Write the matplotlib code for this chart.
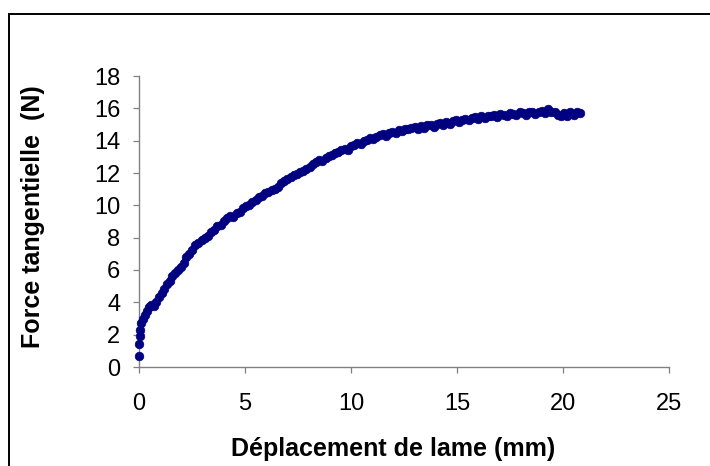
import matplotlib.pyplot as plt
from matplotlib.patches import Rectangle

plt.rcParams['font.family'] = ['Liberation Sans', 'DejaVu Sans']

# blade displacement (mm) and tangential force (N)
deplacement = [
    0.00, 0.02, 0.04, 0.07, 0.10, 0.18, 0.28, 0.38, 0.48, 0.58,
    0.70, 0.82, 0.95, 1.08, 1.20, 1.32, 1.45, 1.58, 1.70, 1.83,
    1.96, 2.10, 2.24, 2.38, 2.52, 2.66, 2.80, 2.95, 3.10, 3.25,
    3.40, 3.55, 3.70, 3.85, 4.00, 4.15, 4.30, 4.45, 4.60, 4.75,
    4.90, 5.05, 5.20, 5.35, 5.50, 5.65, 5.80, 5.95, 6.10, 6.25,
    6.40, 6.55, 6.70, 6.85, 7.00, 7.15, 7.30, 7.45, 7.60, 7.75,
    7.90, 8.05, 8.20, 8.35, 8.50, 8.65, 8.80, 8.95, 9.10, 9.25,
    9.40, 9.55, 9.70, 9.85, 10.00, 10.15, 10.30, 10.45, 10.60, 10.75,
    10.90, 11.05, 11.20, 11.35, 11.50, 11.65, 11.80, 11.95, 12.10, 12.25,
    12.40, 12.55, 12.70, 12.85, 13.00, 13.15, 13.30, 13.45, 13.60, 13.75,
    13.90, 14.05, 14.20, 14.35, 14.50, 14.65, 14.80, 14.95, 15.10, 15.25,
    15.40, 15.55, 15.70, 15.85, 16.00, 16.15, 16.30, 16.45, 16.60, 16.75,
    16.90, 17.05, 17.20, 17.35, 17.50, 17.65, 17.80, 17.95, 18.10, 18.25,
    18.40, 18.55, 18.70, 18.85, 19.00, 19.15, 19.30, 19.45, 19.60, 19.75,
    19.90, 20.05, 20.20, 20.35, 20.50, 20.65, 20.80,
]
force = [
    0.68, 1.45, 1.90, 2.30, 2.70, 3.00, 3.20, 3.45, 3.70, 3.85,
    3.80, 4.05, 4.30, 4.60, 4.85, 5.15, 5.35, 5.65, 5.80, 6.00,
    6.20, 6.45, 6.80, 7.00, 7.25, 7.55, 7.70, 7.85, 8.00, 8.10,
    8.35, 8.50, 8.70, 8.80, 9.05, 9.20, 9.35, 9.30, 9.55, 9.60,
    9.85, 9.95, 10.05, 10.20, 10.30, 10.50, 10.55, 10.75, 10.80, 10.95,
    11.00, 11.15, 11.40, 11.50, 11.65, 11.75, 11.85, 11.95, 12.05, 12.15,
    12.25, 12.40, 12.55, 12.70, 12.80, 12.75, 12.90, 13.05, 13.10, 13.25,
    13.30, 13.40, 13.50, 13.45, 13.65, 13.75, 13.85, 13.80, 13.95, 14.05,
    14.15, 14.10, 14.25, 14.35, 14.40, 14.30, 14.45, 14.55, 14.50, 14.65,
    14.60, 14.75, 14.70, 14.80, 14.85, 14.75, 14.90, 14.80, 14.95, 15.00,
    14.85, 15.05, 15.10, 14.95, 15.15, 15.05, 15.20, 15.25, 15.15, 15.30,
    15.35, 15.25, 15.40, 15.45, 15.35, 15.50, 15.40, 15.55, 15.50, 15.60,
    15.45, 15.65, 15.60, 15.55, 15.70, 15.65, 15.60, 15.75, 15.70, 15.60,
    15.80, 15.75, 15.65, 15.80, 15.85, 15.70, 15.95, 15.75, 15.80, 15.60,
    15.50, 15.70, 15.55, 15.75, 15.60, 15.80, 15.70,
]

x_ticks = [0, 5, 10, 15, 20, 25]
y_ticks = [0, 2, 4, 6, 8, 10, 12, 14, 16, 18]

W, H = 710, 466
fig = plt.figure(figsize=(W / 100, H / 100), dpi=100)
ax = fig.add_axes([139 / W, 1 - 367 / H, 530 / W, 291 / H])

ax.plot(deplacement, force, 'o', color='#000080', markersize=6.2,
        markeredgewidth=0.5, clip_on=False, zorder=3)

ax.set_xlim(0, 25)
ax.set_ylim(0, 18)
ax.set_xticks(x_ticks)
ax.set_yticks(y_ticks)

for side in ('top', 'right'):
    ax.spines[side].set_visible(False)
for side in ('left', 'bottom'):
    ax.spines[side].set_color('#808080')
    ax.spines[side].set_linewidth(1.0)

ax.tick_params(axis='both', direction='out', length=4.5, width=0.9,
               color='#808080', labelsize=17, labelcolor='black')
ax.tick_params(axis='x', pad=14)
ax.tick_params(axis='y', pad=9)

fig.text(393.5 / W, 1 - 456 / H, 'Déplacement de lame (mm)',
         ha='center', va='baseline', fontsize=18, fontweight='bold')
fig.text(33 / W, 1 - 217 / H, 'Force tangentielle  (N)', rotation=90,
         ha='center', va='center', fontsize=18, fontweight='bold')

# chart frame, open at the bottom and right edges
fig.add_artist(Rectangle((8.5 / W, -0.5), 2, 1.5 - 14 / H, fill=False,
                         edgecolor='black', linewidth=1.4,
                         transform=fig.transFigure))

fig.savefig('out.png', dpi=100)
